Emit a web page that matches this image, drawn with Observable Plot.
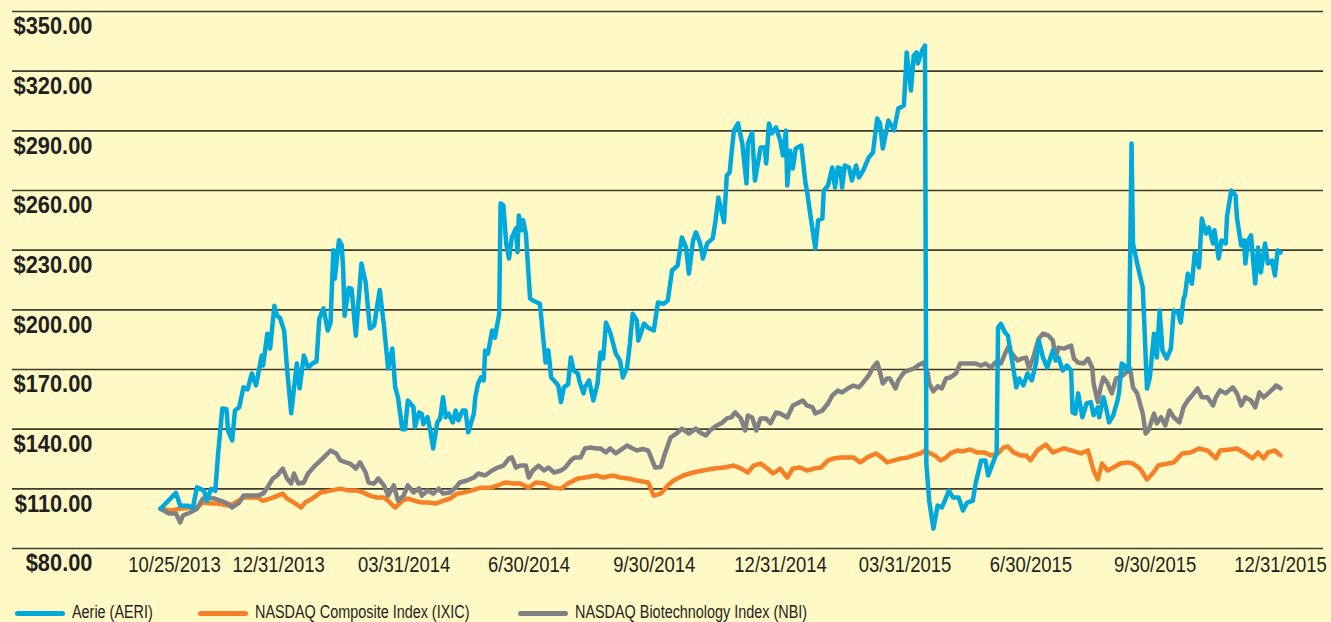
<!DOCTYPE html>
<html>
<head>
<meta charset="utf-8">
<script src="https://cdn.jsdelivr.net/npm/d3@7"></script>
<script src="https://cdn.jsdelivr.net/npm/@observablehq/plot@0.6"></script>
<style>
  html, body { margin: 0; padding: 0; background: #fff9c5; width: 1331px; height: 622px; overflow: hidden; }
  svg { display: block; }
  #legend { position: relative; height: 27px; width: 1331px;
            font-family: "Liberation Sans", Arial, sans-serif; font-size: 18px; color: #231f20; }
  .sw { position: absolute; top: 16px; width: 50px; height: 5px; border-radius: 3px; }
  .tx { position: absolute; top: 7px; line-height: 20px; white-space: nowrap; transform-origin: 0 50%; transform: scaleX(0.8); }
</style>
</head>
<body>
<div id="chart"></div>
<div id="legend"></div>
<script>
// ---- data (day offset from 10/25/2013, value of $100 invested) ----
const startDay = "2013-10-25";
const endDay = "2015-12-31";
const seriesNames = ["Aerie (AERI)", "NASDAQ Composite Index (IXIC)", "NASDAQ Biotechnology Index (NBI)"];
const seriesColors = ["#00a9db", "#f58025", "#808184"];
const yTicks = [80, 110, 140, 170, 200, 230, 260, 290, 320, 350];
const xTickDates = ["2013-10-25","2013-12-31","2014-03-31","2014-06-30","2014-09-30","2014-12-31","2015-03-31","2015-06-30","2015-09-30","2015-12-31"];
const xTickLabels = ["10/25/2013","12/31/2013","03/31/2014","6/30/2014","9/30/2014","12/31/2014","03/31/2015","6/30/2015","9/30/2015","12/31/2015"];

const aeri = [[0,100],[11,108],[14,101.5],[19,101.5],[23,100.5],[26,110.8],[31,109],[33,104],[36,110],[39,109],[41,127.8],[44,150.4],[47,150],[48,139.4],[51,134.3],[53,149.4],[56,151],[59,161],[62,160],[65,168],[68,162],[70,169.5],[72,177],[73,172],[76,188],[78,180.5],[81,202],[83,197],[85,196],[88,189.5],[90,171],[93,148],[97,173],[99,160.5],[102,177],[105,171],[109,173.5],[111,174],[113,195.6],[116,200.7],[119,189.6],[121,193.6],[123,230],[124,215.6],[127,235],[129,232.4],[130,219.8],[131,197],[134,211],[136,210.5],[139,187],[143,223.3],[146,213.7],[149,190.6],[152,192],[156,210],[159,192],[162,170.5],[165,180.6],[167,161],[169,156],[172,140],[174,140],[176,154.4],[180,151],[181,141],[184,148.4],[186,147.5],[187,142.5],[190,146],[192,139.4],[194,130.3],[197,143.4],[199,145.4],[201,156],[203,146],[205,147.8],[208,143.4],[210,149.4],[212,144.4],[215,149.4],[217,149.4],[219,138.4],[223,147.8],[224,156],[226,163],[228,166],[230,164.5],[231,179.6],[233,178],[236,189.6],[238,186],[241,198],[242,253.5],[244,252.5],[246,233.3],[248,225.8],[250,236.3],[253,241],[254,229],[255,247.4],[257,240],[258,245],[260,238.4],[263,205.7],[265,204.7],[268,203.7],[270,203],[273,181],[274,173.5],[276,179.6],[278,166],[280,164.5],[283,162],[285,153.6],[287,161],[290,162.5],[292,176],[294,169.5],[297,168],[298,164.5],[301,158],[302,161],[305,164.5],[308,154.4],[311,163],[313,178.5],[315,175.5],[317,193.6],[320,188.6],[324,178],[327,174.5],[329,166],[332,171],[334,183],[336,198],[339,194.6],[340,184.5],[344,193],[347,191],[351,189.6],[354,203.7],[358,203],[361,204.7],[364,219.8],[368,222.3],[371,236.4],[374,231.3],[376,218.2],[379,234.9],[381,239],[384,233.4],[386,225.8],[389,233.4],[393,235.9],[395,245],[397,256.5],[401,244],[403,267.6],[405,269],[408,290.2],[411,293.7],[414,283.6],[417,263.5],[418,283.6],[421,289.2],[423,265],[427,281.6],[430,281.6],[431,273.6],[433,293.7],[435,288.7],[438,291.7],[441,285.1],[443,277.6],[445,290.2],[446,262.5],[448,280],[450,271.1],[452,281.1],[456,282.6],[459,263.5],[460,260],[463,245],[466,230.8],[468,245],[471,245.9],[472,260],[475,262.5],[478,271.6],[480,261.5],[482,271.6],[484,271],[485,261.5],[487,272.6],[490,271.6],[492,265],[495,272.6],[497,266.6],[500,270],[504,276.6],[507,279.1],[510,296.2],[512,293.7],[514,281.1],[518,295.2],[522,290.2],[525,301.2],[529,302.7],[531,329.4],[534,310.3],[536,327.9],[538,329.4],[539,323.9],[542,330.4],[544,332.9],[545,122.7],[547,104],[550,90],[553,101.6],[556,100.6],[559,105.6],[561,109.1],[564,105.6],[568,105.6],[571,99.1],[574,103.1],[578,104],[580,112.6],[584,124.3],[587,124.3],[589,116.7],[593,124.3],[595,127.8],[596,191.1],[598,193],[601,188.6],[603,187],[606,174.5],[609,161],[611,165.5],[614,162],[617,168],[620,164.5],[623,173],[625,184.6],[628,176],[631,171],[635,179.6],[637,174.5],[639,176],[642,169.5],[645,172],[648,169.5],[649,148.4],[651,147.8],[653,158],[656,146],[659,152.9],[662,153.6],[664,147],[667,151],[668,146],[671,156],[673,150.4],[675,143.4],[678,147],[681,154.4],[682,158],[684,173],[686,172],[689,169.5],[691,283.6],[692,233.4],[695,223.3],[699,211.2],[702,160.4],[704,166],[707,188],[709,176],[711,199.7],[713,179.6],[716,175.5],[719,180.5],[721,199.7],[724,198.7],[726,193.6],[728,205.7],[729,207.2],[731,218.2],[734,213.2],[736,228.8],[739,221.3],[741,245.9],[744,238.4],[746,241.4],[749,233.4],[750,240],[753,225.8],[755,234.9],[758,233.4],[759,247.4],[762,260],[765,257.5],[766,246.4],[769,232.4],[771,234.9],[772,223.3],[774,234.9],[776,237.4],[779,213.2],[781,231.3],[783,218.8],[786,233.4],[788,223.3],[791,224.8],[793,217.3],[795,229.9],[797,228.8]];

const ixic = [[0,100],[7,99.1],[14,100],[20,100.6],[26,100.6],[30,103.1],[36,102.6],[41,102.6],[48,101.6],[52,102.6],[59,105.6],[69,105.6],[73,104],[80,105.6],[87,107.6],[90,105.1],[95,103.1],[100,100.6],[103,103.1],[108,105.1],[114,108.2],[121,109.1],[128,110.1],[134,109.1],[140,109.1],[144,108.2],[149,106.6],[154,105.6],[159,105.6],[162,104],[167,100.6],[172,104],[176,105.1],[181,104],[186,103.1],[191,103.1],[196,102.6],[201,104],[206,105.1],[211,107.6],[216,108.2],[221,109.1],[228,110.6],[235,110.6],[240,111.7],[245,113.2],[251,112.7],[256,112.7],[262,110.6],[267,113.2],[273,112.7],[279,110.6],[285,110.1],[290,112.7],[297,115.2],[302,115.7],[310,116.7],[315,115.7],[322,116.7],[327,115.7],[333,115.2],[339,114.2],[347,113.2],[351,106.6],[356,107.6],[361,111.7],[365,114.2],[372,116.7],[379,118.2],[386,119.2],[394,120.2],[401,120.7],[408,121.7],[413,120.2],[418,118.2],[422,121.7],[427,122.7],[431,120.7],[436,117.7],[441,120.2],[446,115.7],[450,120.2],[455,120.7],[460,119.2],[465,120.2],[470,120.7],[475,124.3],[479,125.3],[484,125.8],[489,125.8],[493,125.8],[498,123.3],[503,125.8],[509,127.8],[514,125.3],[517,123.3],[522,124.3],[527,125.3],[532,125.8],[536,126.8],[541,127.8],[544,129.3],[548,127.8],[551,126.8],[555,124.3],[559,125.8],[562,127.8],[567,129.3],[571,128.8],[576,129.8],[581,128.3],[586,128.3],[591,126.8],[596,127.8],[600,130.8],[603,131.3],[607,128.3],[612,126.8],[616,126.8],[619,124.3],[624,129.3],[630,132.3],[635,128.3],[643,130.3],[648,129.3],[655,127.8],[660,129.3],[664,119.2],[667,114.7],[670,122.7],[674,119.2],[678,120.7],[683,122.7],[688,123.3],[692,122.7],[697,120.2],[702,114.7],[706,117.7],[710,121.7],[717,122.7],[721,123.3],[727,127.8],[733,128.3],[739,130.3],[745,129.3],[751,125.3],[754,129.3],[761,129.8],[766,130.3],[771,128.3],[777,125.3],[781,128.3],[785,125.3],[788,128.3],[793,129.3],[797,126.8]];

const nbi = [[0,100],[6,97.6],[11,97.6],[14,93.1],[16,96.6],[21,98.1],[26,100],[30,105],[33,105.6],[39,105],[43,104],[48,102.6],[51,100.6],[56,103.1],[59,106.6],[69,106.6],[73,107.6],[76,110.6],[80,115.2],[83,116.7],[87,120.2],[90,115.2],[93,112.7],[95,117.7],[98,112.7],[102,113.2],[105,117.7],[110,121.7],[114,124.3],[119,127.8],[121,129.3],[125,127.8],[128,124.3],[132,123.3],[135,122.7],[139,120.2],[142,123.3],[146,118.2],[148,113.2],[152,112.7],[155,115.2],[159,111.7],[162,106.6],[166,111.7],[169,104.1],[173,106.6],[176,111.7],[180,108.2],[184,110.2],[186,106.6],[190,109.1],[194,107.6],[198,110.1],[201,107.6],[206,108.2],[210,110.6],[213,113.2],[218,114.2],[223,115.7],[226,117.7],[231,116.7],[236,119.2],[240,120.7],[244,121.7],[248,125.3],[250,125.8],[253,120.7],[256,121.7],[260,121.7],[262,115.7],[265,119.2],[269,121.7],[273,119.2],[276,120.7],[280,118.2],[285,119.2],[288,120.7],[292,124.3],[295,125.8],[299,125.8],[302,130.3],[306,130.8],[310,130.3],[313,130.3],[317,128.3],[320,130.3],[324,127.8],[327,129.3],[332,131.8],[336,130.3],[339,129.3],[343,130],[347,129.3],[352,120.7],[356,121],[359,127.8],[363,135.8],[368,138.3],[371,140.3],[376,137.8],[381,140.3],[384,138.3],[388,136.8],[391,139.3],[396,141.9],[400,143.4],[403,145.4],[406,145.9],[409,148.4],[413,145.4],[416,139.3],[418,146.9],[421,145.9],[424,139.3],[427,145.4],[431,145.4],[434,142.9],[438,148.4],[441,147.9],[446,145.9],[450,151.9],[453,152.9],[457,154.4],[460,151.9],[464,150.9],[466,147.9],[471,149.4],[475,152.9],[478,156.9],[482,159.4],[485,158.5],[489,160.4],[493,161.9],[497,161],[500,163.5],[504,167],[507,171],[510,173.5],[512,168.5],[514,163],[517,165.5],[519,165.5],[523,160.5],[525,164.5],[529,168.5],[532,169.5],[536,170.5],[539,172],[543,173.5],[546,168],[547,163],[550,159],[553,161.5],[556,160.5],[559,165.5],[562,166],[566,168],[569,173],[573,173],[576,173],[580,173],[584,172],[587,173],[591,171],[594,173.5],[598,173],[601,178],[603,181],[607,177],[610,174.5],[613,175.5],[616,176],[618,170.5],[621,176],[625,185.6],[628,188],[632,187],[635,184.6],[637,176],[639,181],[643,180.5],[648,182],[650,175.5],[653,173.5],[657,173],[660,175.5],[663,171],[664,163],[667,153.6],[669,161],[671,166],[674,163],[677,158],[680,165.5],[683,166],[687,168.5],[690,170.5],[692,161],[695,158],[699,147.8],[701,137.8],[703,139.4],[707,147.8],[709,142.9],[712,146],[715,141.9],[718,149.4],[721,146],[725,143.4],[728,151],[731,154.4],[734,156.9],[738,160.5],[741,156],[745,156],[749,151.9],[751,156],[754,159.5],[758,158],[763,161],[766,158],[769,151.9],[772,156],[776,154.4],[779,151],[782,158.5],[785,156],[789,158.5],[792,160.5],[794,162],[797,160.5]];

// ---- build tidy rows ----
const t0 = new Date(startDay + "T00:00:00Z");
const toDate = d => new Date(t0.getTime() + d * 864e5);
const rows = (arr, name) => arr.map(([d, v]) => ({date: toDate(d), value: v, series: name}));
const dataAeri = rows(aeri, seriesNames[0]);
const dataIxic = rows(ixic, seriesNames[1]);
const dataNbi = rows(nbi, seriesNames[2]);
const tickDates = xTickDates.map(s => new Date(s + "T00:00:00Z"));
const labelOf = new Map(tickDates.map((d, i) => [+d, xTickLabels[i]]));

const sans = "'Liberation Sans', Arial, sans-serif";
const lineOpts = (c) => ({x: "date", y: "value", stroke: c, strokeWidth: 4.5, strokeLinejoin: "round", strokeLinecap: "round"});

// the original's category labels drift slightly right of their dates; nudge each label
const labelNudge = [14, 24, 23, 20, 16, 13, 11, 9, 4, 0];
const xAxes = tickDates.map((d, i) => Plot.axisX([d], {
  anchor: "bottom", tickSize: 0, tickPadding: 8, dx: labelNudge[i], label: null, className: "xlab",
  tickFormat: v => labelOf.get(+v), fontSize: 22, fontFamily: sans, fill: "#231f20"
}));

const chart = Plot.plot({
  width: 1331,
  height: 595,
  marginTop: 11,
  marginBottom: 47,
  marginLeft: 12,
  marginRight: 8,
  style: {background: "transparent", color: "#231f20", fontFamily: sans},
  x: {type: "utc", domain: [new Date(startDay + "T00:00:00Z"), new Date(endDay + "T00:00:00Z")], range: [160, 1280]},
  y: {domain: [80, 350]},
  marks: [
    Plot.ruleY(yTicks, {stroke: "#3e3b2f", strokeWidth: 1.6}),
    Plot.axisY(yTicks, {anchor: "left", tickSize: 0, tickPadding: 0, dx: 80, dy: 15, label: null, className: "ylab",
      tickFormat: d => "$" + d.toFixed(2), fontSize: 24, fontWeight: "bold", fontFamily: sans, fill: "#231f20"}),
    ...xAxes,
    Plot.line(dataIxic, lineOpts(seriesColors[1])),
    Plot.line(dataNbi, lineOpts(seriesColors[2])),
    Plot.line(dataAeri, lineOpts(seriesColors[0]))
  ]
});
document.getElementById("chart").appendChild(chart);

// condense axis text horizontally (reference uses a condensed face)
function condense(selector, k) {
  chart.querySelectorAll(selector).forEach(t => {
    const w = t.getComputedTextLength();
    t.setAttribute("textLength", (w * k).toFixed(1));
    t.setAttribute("lengthAdjust", "spacingAndGlyphs");
  });
}
condense(".ylab text", 0.91);
condense(".xlab text", 0.84);

// ---- legend ----
const legend = document.getElementById("legend");
const swatchX = [15, 198, 518];
seriesNames.forEach((name, i) => {
  const sw = document.createElement("span");
  sw.className = "sw";
  sw.style.left = swatchX[i] + "px";
  sw.style.background = seriesColors[i];
  const tx = document.createElement("span");
  tx.className = "tx";
  tx.style.left = (swatchX[i] + 57) + "px";
  tx.textContent = name;
  legend.appendChild(sw);
  legend.appendChild(tx);
});
</script>
</body>
</html>
